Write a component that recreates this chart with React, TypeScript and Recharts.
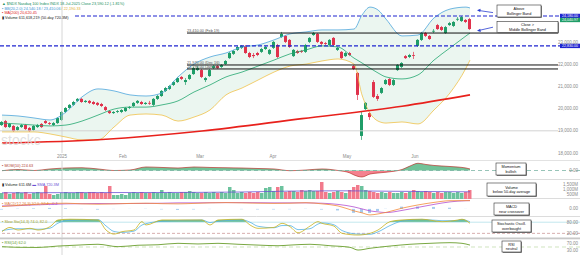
import React from 'react';
import { ComposedChart, Bar, Line, Area, XAxis, YAxis, ReferenceLine, Cell } from 'recharts';

// daily candles
const opens = [
  19260, 19440, 19170, 19220, 19040, 19170, 19260, 19130, 19040, 19170,
  19310, 19440, 19350, 19260, 19350, 19490, 19850, 20030, 20170, 20350,
  20440, 20300, 20350, 20300, 20260, 20210, 20070, 19890, 19800, 19850,
  19850, 19890, 20030, 20120, 20260, 20300, 20210, 20260, 20170, 20440,
  20570, 20800, 20890, 21070, 21200, 21430, 21200, 21340, 21560, 21740,
  21740, 21290, 21470, 21830, 21920, 21880, 22010, 22280, 22470, 22650,
  22740, 22830, 22510, 22420, 22510, 22560, 22690, 22470, 22740, 22870,
  23230, 23280, 23100, 22370, 22600, 22600, 22560, 23010, 23320, 23370,
  23010, 22960, 22870, 23190, 22650, 22560, 22370, 22510, 21920, 21610,
  18770, 19980, 19800, 21200, 20570, 20710, 21110, 21340, 21070, 21740,
  21880, 22370, 22330, 22420, 22830, 23100, 23410, 23280, 23500, 23770,
  23680, 23410, 23770, 23730, 24040, 23950, 24000, 24040,
];
const closes = [
  19400, 19170, 19310, 18990, 19170, 19260, 19080, 18990, 19220, 19260,
  19170, 19350, 19310, 19350, 19580, 19850, 20030, 20170, 20300, 20440,
  20300, 20350, 20260, 20210, 20170, 20120, 19940, 19800, 19850, 19890,
  19940, 20030, 20070, 20260, 20350, 20210, 20260, 20250, 20440, 20570,
  20800, 20930, 21020, 21200, 21380, 21340, 21290, 21520, 21830, 21830,
  21430, 21380, 21740, 21920, 21830, 21970, 22150, 22510, 22600, 22780,
  22830, 22510, 22330, 22370, 22420, 22690, 22780, 22650, 23010, 22330,
  23370, 23010, 22780, 22650, 22510, 22560, 22870, 23190, 23410, 23010,
  22920, 22920, 23100, 22870, 22740, 22280, 22510, 22420, 21790, 20620,
  19710, 20260, 19620, 20530, 20440, 20930, 21290, 21070, 21290, 21970,
  22060, 22280, 22420, 22400, 23100, 23410, 23280, 23140, 23510, 23590,
  23550, 23680, 23860, 23910, 24050, 24130, 23910, 23590,
];
const highs = [
  19440, 19490, 19350, 19260, 19220, 19310, 19310, 19170, 19260, 19310,
  19350, 19490, 19400, 19400, 19620, 19890, 20070, 20210, 20350, 20480,
  20480, 20390, 20390, 20350, 20300, 20260, 20120, 19940, 19890, 19940,
  19980, 20070, 20120, 20300, 20390, 20350, 20300, 20350, 20480, 20620,
  20840, 20980, 21070, 21250, 21430, 21470, 21380, 21560, 21880, 21920,
  21790, 21430, 21790, 21970, 21970, 22010, 22190, 22560, 22650, 22830,
  22870, 22870, 22560, 22510, 22560, 22740, 22830, 22690, 23050, 22920,
  23460, 23320, 23140, 22690, 22650, 22650, 22920, 23230, 23460, 23410,
  23050, 23010, 23140, 23230, 22780, 22600, 22560, 22560, 21970, 21650,
  19850, 20300, 19850, 21290, 20660, 20980, 21340, 21380, 21340, 22010,
  22100, 22420, 22470, 22560, 23140, 23460, 23460, 23320, 23590, 23820,
  23730, 23730, 23910, 23950, 24130, 24180, 24040, 24090,
];
const lows = [
  19220, 19130, 19130, 18950, 18990, 19130, 19040, 18950, 18990, 19130,
  19130, 19310, 19260, 19220, 19310, 19440, 19800, 19980, 20120, 20300,
  20260, 20260, 20210, 20170, 20120, 20070, 19890, 19760, 19760, 19800,
  19800, 19850, 19980, 20070, 20210, 20170, 20170, 20170, 20120, 20390,
  20530, 20750, 20840, 21020, 21160, 21290, 21070, 21290, 21520, 21700,
  21380, 21200, 21430, 21790, 21790, 21830, 21970, 22240, 22420, 22600,
  22690, 22470, 22280, 22280, 22370, 22510, 22650, 22420, 22690, 22280,
  23190, 22960, 22740, 22330, 22470, 22510, 22510, 22960, 23280, 22960,
  22870, 22870, 22830, 22830, 22600, 22240, 22330, 22370, 21740, 20390,
  18590, 19940, 19490, 20480, 20350, 20660, 21070, 21020, 21020, 21700,
  21830, 22240, 22280, 22240, 22780, 23050, 23230, 23100, 23410, 23550,
  23500, 23370, 23730, 23680, 23950, 23910, 23860, 23550,
];
// volume, millions
const volumes = [
  600, 700, 500, 600, 700, 600, 700, 500, 600, 700, 600, 1300, 500, 400, 500,
  600, 700, 600, 600, 700, 700, 600, 700, 700, 600, 700, 600, 1300, 400, 400,
  500, 400, 600, 700, 600, 700, 600, 600, 700, 600, 900, 600, 700, 600, 600,
  700, 700, 800, 700, 600, 600, 700, 600, 700, 600, 700, 600, 1200, 900, 600,
  700, 600, 700, 600, 700, 600, 1100, 1200, 800, 1200, 1300, 700, 800, 800, 700,
  900, 800, 900, 800, 800, 1700, 700, 600, 700, 800, 700, 600, 900, 1200, 1400,
  1300, 900, 800, 700, 600, 700, 600, 700, 600, 600, 700, 600, 700, 900, 800,
  700, 800, 700, 600, 700, 600, 700, 700, 600, 700, 600, 700, 900,
];

// Bollinger bands (20,2) sampled along the candles
const bandIdx = [0, 4, 8, 12, 16, 20, 24, 28, 32, 36, 40, 44, 48, 52, 56, 60, 64, 68, 72, 76, 80, 84, 88, 90, 92, 94, 96, 100, 104, 108, 112, 116, 117];
const bbUpper = [19710, 19670, 19580, 19490, 19850, 20530, 20890, 20800, 20620, 20570, 20710, 21430, 22010, 22330, 22510, 22780, 22870, 23100, 23370, 23460, 23550, 23550, 23590, 24220, 24580, 24450, 24040, 23280, 23320, 24090, 24490, 24580, 24540];
const bbMiddle = [19350, 19310, 19260, 19220, 19260, 19440, 19710, 19980, 20070, 20070, 20170, 20350, 20750, 21070, 21430, 21650, 21920, 22190, 22470, 22650, 22830, 22780, 22280, 22060, 21830, 21610, 21430, 21340, 21520, 22190, 22740, 23280, 23410];
const bbLower = [18950, 18950, 18950, 18860, 18720, 18590, 18590, 19170, 19710, 19760, 19710, 19440, 19620, 19940, 20620, 20930, 21290, 21650, 21920, 22010, 22150, 22240, 22010, 20620, 19800, 19440, 19350, 19400, 19310, 19940, 20710, 21830, 22190];

const maIdx = [0, 25, 50, 75, 100, 117];
const ma200 = [18450, 18610, 18990, 19550, 20110, 20620];

const momIdx = [0, 4, 8, 12, 16, 20, 24, 28, 32, 36, 40, 44, 48, 52, 56, 60, 64, 68, 72, 76, 80, 84, 87, 88, 90, 92, 94, 98, 100, 102, 104, 106, 108, 112, 116, 117];
const momentum = [-20, 100, 0, 160, 260, 290, 160, 0, 50, 370, 320, 260, 370, 320, 290, 260, 210, 160, -20, 50, 160, 0, -260, -470, -680, -370, -260, -80, 100, 470, 760, 630, 530, 420, 260, 160];

const volMaIdx = [0, 20, 40, 60, 72, 84, 96, 108, 117];
const volMa = [620, 640, 650, 700, 790, 820, 780, 740, 720];

const macdIdx = [0, 4, 8, 12, 16, 20, 24, 28, 32, 36, 40, 44, 48, 52, 56, 60, 64, 68, 72, 76, 80, 84, 88, 90, 92, 94, 96, 100, 104, 108, 112, 116, 117];
const macdLine = [26, 39, 50, 61, 63, 56, 52, 56, 61, 63, 58, 56, 61, 67, 70, 67, 63, 61, 63, 69, 56, 33, -22, -44, -67, -56, -39, 8, 44, 72, 91, 92, 92];
const macdSignal = [33, 36, 44, 50, 56, 58, 60, 58, 60, 61, 63, 67, 67, 69, 70, 70, 69, 67, 67, 67, 63, 50, 22, 0, -22, -33, -41, -17, 17, 50, 78, 91, 92];
const macdHist = [-7, 3, 6, 11, 7, -2, -8, -2, 1, 2, -5, -11, -6, -2, 0, -3, -6, -6, -4, 2, -7, -17, -44, -44, -45, -23, 2, 25, 27, 22, 13, 1, 0];

const stochIdx = [0, 2, 4, 7, 9, 12, 14, 17, 24, 26, 28, 30, 33, 35, 36, 40, 50, 52, 54, 60, 62, 64, 68, 70, 72, 74, 77, 79, 80, 83, 85, 89, 92, 94, 97, 100, 105, 110, 114, 115, 117];
const stochK = [29, 52, 38, 47, 38, 56, 92, 96, 92, 38, 16, 29, 38, 83, 65, 92, 92, 65, 92, 96, 65, 47, 52, 74, 56, 23, 59, 83, 74, 59, 20, 11, 20, 38, 83, 92, 96, 83, 92, 96, 74];
const stochD = [35, 42, 45, 44, 42, 48, 75, 90, 94, 60, 30, 25, 32, 65, 72, 85, 92, 78, 85, 93, 80, 58, 50, 62, 62, 40, 45, 70, 76, 66, 35, 16, 15, 28, 62, 86, 95, 88, 89, 94, 82];

const rsiIdx = [0, 4, 9, 14, 19, 24, 29, 34, 39, 44, 49, 54, 59, 64, 69, 72, 77, 82, 87, 89, 92, 97, 102, 107, 112, 115, 117];
const rsi = [52, 48, 47, 56, 62, 67, 52, 61, 64, 73, 69, 73, 67, 62, 58, 62, 67, 58, 48, 31, 42, 56, 67, 73, 77, 73, 62];

const dateTicks = [15, 30.25, 49.5, 67.75, 86.25, 103.25];
const dateLabels = ['2025', 'Feb', 'Mar', 'Apr', 'May', 'Jun'];
const priceTicks = [18000, 19000, 20000, 21000, 22000, 23000];

// horizontal levels drawn on the price panel
const dashedLevels = [24180, 22830];
const dashedStart = [18.25, -0.5];
const supportLevels = [23410, 21970, 21790];
const supportLabels = ['23,410.00 (Feb 19)', '21,970.00 (Dec 16)', '21,790.00 (Jan 24)'];

const UP = '#1f9d68';
const DOWN = '#e0324c';
const FONT = '"Liberation Sans", Arial, sans-serif';
const X_DOMAIN: [number, number] = [-0.5, 144.5];
const STOCH_DOMAIN: [number, number] = [-5, 108];

const rows: any[] = opens.map((o, i) => ({
  i,
  open: o,
  close: closes[i],
  high: highs[i],
  low: lows[i],
  range: [lows[i], highs[i]],
  vol: volumes[i],
}));
const attach = (idx: number[], vals: any[], key: string) => {
  idx.forEach((i, k) => {
    rows[i][key] = vals[k];
  });
};
attach(bandIdx, bbUpper, 'bbU');
attach(bandIdx, bbMiddle, 'bbM');
attach(bandIdx, bbLower, 'bbL');
attach(bandIdx, bbLower.map((l, k) => [l, bbUpper[k]]), 'bb');
attach(maIdx, ma200, 'ma');
attach(momIdx, momentum, 'mom');
attach(volMaIdx, volMa, 'vma');
attach(macdIdx, macdLine, 'macd');
attach(macdIdx, macdSignal, 'sig');
attach(macdIdx, macdHist, 'hist');
attach(stochIdx, stochK, 'stK');
attach(stochIdx, stochD, 'stD');
attach(rsiIdx, rsi, 'rsi');

const fmt2 = (v: number) => v.toLocaleString('en-US', { minimumFractionDigits: 2, maximumFractionDigits: 2 });
const axisTick = { fontSize: 4.5, fill: '#8a8a8a', fontFamily: FONT };

const Candle = (p: any) => {
  const { x, y, width, height, payload } = p;
  if (x == null || y == null) return null;
  const top = Math.min(y, y + height);
  const h = Math.abs(height);
  const { open, close, high, low } = payload;
  const color = close >= open ? UP : DOWN;
  const k = h / (high - low || 1);
  const bodyTop = top + (high - Math.max(open, close)) * k;
  const bodyH = Math.max(Math.abs(open - close) * k, 0.8);
  const cx = x + width / 2;
  return (
    <g>
      <line x1={cx} x2={cx} y1={top} y2={top + h} stroke={color} strokeWidth={0.7} />
      <rect x={x} y={bodyTop} width={width} height={bodyH} fill={color} />
    </g>
  );
};

const priceTag = (text: string, fill: string) => (p: any) => {
  const vb = p.viewBox;
  const right = vb.x + vb.width;
  return (
    <g>
      <rect x={right - 20} y={vb.y - 2.2} width={20} height={4.4} fill={fill} />
      <text x={right - 10} y={vb.y + 1.3} fontSize={3.6} fill="#fff" textAnchor="middle" fontFamily={FONT}>{text}</text>
    </g>
  );
};

const levelLabel = (text: string, dy: number) => (p: any) => (
  <text x={187} y={p.viewBox.y + dy} fontSize={3.8} fill="#555" fontFamily={FONT}>{text}</text>
);

function Panel({ top, height, domain, ticks, fmt, children }: any) {
  return (
    <div style={{ position: 'absolute', left: 0, top }}>
      <ComposedChart width={580} height={height} data={rows} margin={{ top: 0, right: 0, bottom: 0, left: 0 }}>
        <XAxis dataKey="i" type="number" domain={X_DOMAIN} allowDataOverflow hide />
        <YAxis orientation="right" mirror type="number" domain={domain} allowDataOverflow ticks={ticks} interval={0}
          tickFormatter={fmt} axisLine={false} tickLine={false} tickSize={0} tickMargin={2} tick={axisTick} />
        <ReferenceLine x={15} stroke="#d6d6d6" />
        {children}
      </ComposedChart>
    </div>
  );
}

function NoteBox({ x, y, w, h, lines }: { x: number; y: number; w: number; h: number; lines: string[] }) {
  return (
    <g>
      <rect x={x + 0.8} y={y + 0.8} width={w} height={h} fill="#666" />
      <rect x={x} y={y} width={w} height={h} fill="#fff" stroke="#333" strokeWidth={0.6} />
      {lines.map((t, k) => (
        <text key={k} x={x + w / 2} y={y + h / 2 - 0.8 + k * 4.4} fontSize={3.8} fill="#111" textAnchor="middle" fontFamily={FONT}>{t}</text>
      ))}
    </g>
  );
}

export default function App() {
  const stochCut = (STOCH_DOMAIN[1] - 80) / (STOCH_DOMAIN[1] - STOCH_DOMAIN[0]);
  return (
    <div style={{ position: 'relative', width: 580, height: 255, background: '#fff', overflow: 'hidden', fontFamily: FONT }}>
      <style>{'body{margin:0}'}</style>
      <svg width={580} height={255} style={{ position: 'absolute', left: 0, top: 0 }}>
        <line x1={0} x2={580} y1={160.5} y2={160.5} stroke="#e2e2e2" />
        <line x1={0} x2={580} y1={179.5} y2={179.5} stroke="#dcdcdc" />
        <line x1={0} x2={580} y1={198.5} y2={198.5} stroke="#dcdcdc" />
        <line x1={0} x2={580} y1={216.5} y2={216.5} stroke="#dcdcdc" />
        <rect x={0} y={237.5} width={580} height={1.8} fill="#c8c8c8" />
      </svg>

      <div style={{ position: 'absolute', left: 0, top: 0 }}>
        <ComposedChart width={580} height={162} data={rows} margin={{ top: 0, right: 0, bottom: 0, left: 0 }}>
          <XAxis dataKey="i" type="number" domain={X_DOMAIN} allowDataOverflow ticks={dateTicks} interval={0}
            tickFormatter={(v: number) => dateLabels[dateTicks.indexOf(v)]} height={9}
            axisLine={false} tickLine={false} tickSize={0} tickMargin={2} tick={axisTick} />
          <YAxis orientation="right" mirror type="number" domain={[18000, 24900]} allowDataOverflow ticks={priceTicks} interval={0}
            tickFormatter={fmt2} axisLine={false} tickLine={false} tickSize={0} tickMargin={2} tick={axisTick} />
          <Area dataKey="bb" type="monotone" connectNulls stroke="none" fill="#ebf6f0" fillOpacity={1} activeDot={false} isAnimationActive={false} />
          <ReferenceLine x={15} stroke="#d6d6d6" />
          <ReferenceLine segment={[{ x: -0.5, y: 19000 }, { x: 139, y: 19000 }]} stroke="#d2d2d2" />
          <Line dataKey="bbU" type="monotone" connectNulls dot={false} activeDot={false} stroke="#4ea6dc" strokeWidth={0.8} isAnimationActive={false} />
          <Line dataKey="bbM" type="monotone" connectNulls dot={false} activeDot={false} stroke="#23a770" strokeWidth={0.8} isAnimationActive={false} />
          <Line dataKey="bbL" type="monotone" connectNulls dot={false} activeDot={false} stroke="#f0c24a" strokeWidth={0.8} isAnimationActive={false} />
          <Line dataKey="ma" type="monotone" connectNulls dot={false} activeDot={false} stroke="#e8211c" strokeWidth={1.6} isAnimationActive={false} />
          <Bar dataKey="range" shape={Candle} barSize={3} isAnimationActive={false} />
          {supportLevels.map((v, k) => (
            <ReferenceLine key={`s${k}`} segment={[{ x: 46.25, y: v }, { x: 139, y: v }]} stroke="#111" strokeWidth={1}
              label={levelLabel(supportLabels[k], -1.2)} />
          ))}
          {dashedLevels.map((v, k) => (
            <ReferenceLine key={`d${k}`} segment={[{ x: dashedStart[k], y: v }, { x: 144.5, y: v }]} stroke="#1f24d0"
              strokeWidth={1.1} strokeDasharray="4 2" label={priceTag(fmt2(v), '#1f24d0')} />
          ))}
          <ReferenceLine y={24000} stroke="none" label={priceTag('24,040.97', UP)} />
        </ComposedChart>
      </div>

      <Panel top={161} height={19} domain={[-1000, 1000]} ticks={[0]} fmt={fmt2}>
        <defs>
          <linearGradient id="momFill" gradientUnits="userSpaceOnUse" x1={0} y1={0} x2={0} y2={19}>
            <stop offset={0} stopColor="#58b886" />
            <stop offset={0.5} stopColor="#58b886" />
            <stop offset={0.5} stopColor="#f26b7c" />
            <stop offset={1} stopColor="#f26b7c" />
          </linearGradient>
        </defs>
        <ReferenceLine y={0} stroke="#6aaa9a" strokeDasharray="4 3" strokeWidth={0.7} />
        <Area dataKey="mom" baseValue={0} type="monotone" connectNulls stroke="#b8342c" strokeWidth={0.7} fill="url(#momFill)" fillOpacity={0.85} activeDot={false} isAnimationActive={false} />
      </Panel>

      <Panel top={180} height={19} domain={[0, 1900]} ticks={[500, 1000, 1500]} fmt={(v: number) => `${v.toLocaleString('en-US')}M`}>
        <Bar dataKey="vol" barSize={3.5} isAnimationActive={false}>
          {rows.map((r, k) => (
            <Cell key={k} fill={r.close >= r.open ? '#6cc39e' : '#f27a8c'} />
          ))}
        </Bar>
        <Line dataKey="vma" type="monotone" connectNulls dot={false} activeDot={false} stroke="#6b52d4" strokeWidth={0.8} isAnimationActive={false} />
      </Panel>

      <Panel top={199} height={18} domain={[-90, 110]} ticks={[0]} fmt={fmt2}>
        <Bar dataKey="hist" barSize={3} fill="#a6cbee" isAnimationActive={false} />
        <Line dataKey="sig" type="monotone" connectNulls dot={false} activeDot={false} stroke="#b24fd0" strokeWidth={0.8} isAnimationActive={false} />
        <Line dataKey="macd" type="monotone" connectNulls dot={false} activeDot={false} stroke="#f28a3a" strokeWidth={0.8} isAnimationActive={false} />
      </Panel>

      <Panel top={217} height={21} domain={STOCH_DOMAIN} ticks={[20, 80]} fmt={fmt2}>
        <defs>
          <linearGradient id="stFill" gradientUnits="userSpaceOnUse" x1={0} y1={0} x2={0} y2={21}>
            <stop offset={0} stopColor="#5cb98b" stopOpacity={0.9} />
            <stop offset={stochCut} stopColor="#5cb98b" stopOpacity={0.9} />
            <stop offset={stochCut} stopColor="#5cb98b" stopOpacity={0} />
            <stop offset={1} stopColor="#5cb98b" stopOpacity={0} />
          </linearGradient>
        </defs>
        <ReferenceLine y={80} stroke="#a8dde6" strokeWidth={0.7} />
        <ReferenceLine y={20} stroke="#c48a8a" strokeDasharray="3 2" strokeWidth={0.7} />
        <Area dataKey="stK" baseValue={80} type="monotone" connectNulls stroke="none" fill="url(#stFill)" fillOpacity={1} activeDot={false} isAnimationActive={false} />
        <Line dataKey="stD" type="monotone" connectNulls dot={false} activeDot={false} stroke="#56b4e6" strokeWidth={0.8} isAnimationActive={false} />
        <Line dataKey="stK" type="monotone" connectNulls dot={false} activeDot={false} stroke="#c8b421" strokeWidth={0.8} isAnimationActive={false} />
      </Panel>

      <Panel top={239} height={16} domain={[0, 100]} ticks={[30, 70]} fmt={fmt2}>
        <ReferenceLine y={50} stroke="#bcd9a4" strokeDasharray="4 3" strokeWidth={0.7} />
        <Line dataKey="rsi" type="monotone" connectNulls dot={false} activeDot={false} stroke="#6a9e2c" strokeWidth={0.9} isAnimationActive={false} />
      </Panel>

      <svg width={580} height={255} style={{ position: 'absolute', left: 0, top: 0, pointerEvents: 'none' }} fontFamily={FONT}>
        <text x={1} y={145} fontSize={14} fill="#d8d8d8" fillOpacity={0.8}>stockc</text>

        <text x={2} y={5.2} fontSize={3.8} fill="#1b8f5e">▲ $NDX Nasdaq 100 Index INDX 18-Jul-2025 Close 23,590.12 (-1.81%)</text>
        <text x={2} y={9.7} fontSize={3.8}>
          <tspan fill="#3b92d2">▪ BB(20,2.0) 24,540.18 / 23,410.06</tspan>
          <tspan fill="#e0b030"> / 22,190.33</tspan>
        </text>
        <text x={2} y={14.3} fontSize={3.8} fill="#e0231d">▪ MA(200) 20,620.45</text>
        <text x={2} y={18.8} fontSize={3.8} fill="#222">▮ Volume 611,618,219 (50-day 720.3M)</text>

        <text x={2} y={166.5} fontSize={3.8} fill="#b23b2f">▪ MOM(10) 224.63</text>
        <text x={2} y={185.5} fontSize={3.8}>
          <tspan fill="#222">▮ Volume 611.6M</tspan>
          <tspan fill="#6b52d4"> ▬ SMA 720.3M</tspan>
        </text>
        <text x={2} y={204.5} fontSize={3.8}>
          <tspan fill="#e07b39">▪ MACD(12,26,9) 92.0, 92.4</tspan>
          <tspan fill="#b24fd0">, -0.4</tspan>
        </text>
        <text x={2} y={222.5} fontSize={3.8} fill="#ab9d1c">▪ Slow Sto(14,3) 74.0, 82.0</text>
        <text x={2} y={243.5} fontSize={3.8} fill="#5f9a2a">▪ RSI(14) 62.0</text>

        <line x1={493} y1={12.6} x2={479.5} y2={10.6} stroke="#2a3fd0" strokeWidth={0.8} />
        <polygon points="477,10.3 480.6,8.7 480.2,12" fill="#2a3fd0" />
        <line x1={493} y1={27.2} x2={479.5} y2={30.3} stroke="#2a3fd0" strokeWidth={0.8} />
        <polygon points="477,30.8 480.2,28.7 480.8,32" fill="#2a3fd0" />

        <NoteBox x={497} y={5} w={44} h={12} lines={['Above', 'Bollinger Band']} />
        <NoteBox x={497} y={21.5} w={61} h={11} lines={['Close >', 'Middle Bollinger Band']} />
        <NoteBox x={496} y={163} w={30} h={12} lines={['Momentum', 'bullish']} />
        <NoteBox x={487} y={183} w={49} h={13} lines={['Volume', 'below 50-day average']} />
        <NoteBox x={494} y={203} w={35} h={12} lines={['MACD', 'near crossover']} />
        <NoteBox x={492} y={220} w={39} h={12} lines={['Stochastic Oscill.', 'overbought']} />
        <NoteBox x={502} y={241} w={19} h={11} lines={['RSI', 'neutral']} />
      </svg>
    </div>
  );
}
